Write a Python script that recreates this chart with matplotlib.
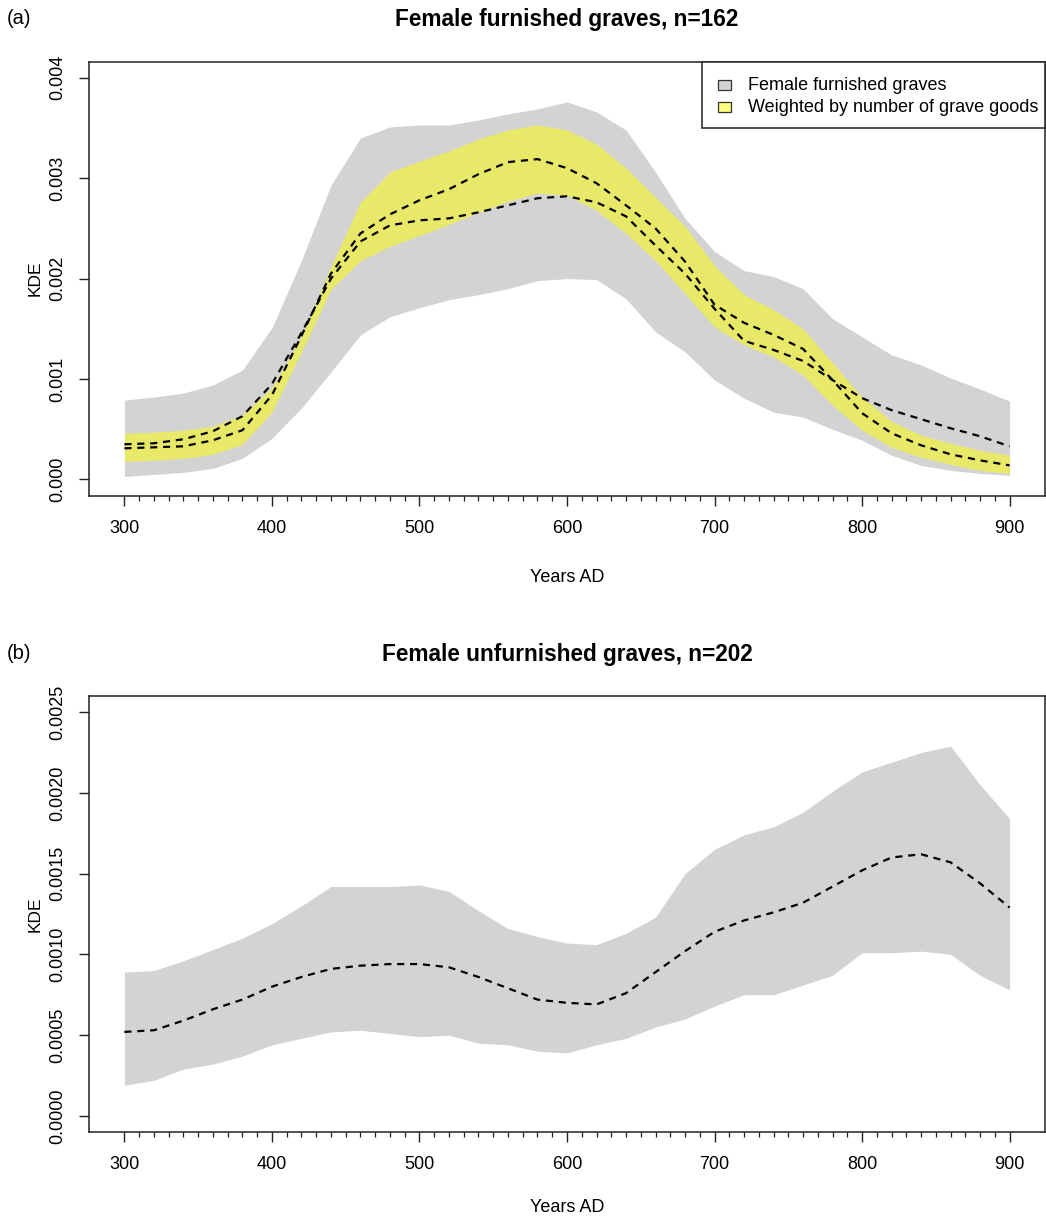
import matplotlib

matplotlib.use("Agg")
import matplotlib.pyplot as plt
import numpy as np
from matplotlib.patches import Rectangle
from matplotlib.ticker import FixedLocator

plt.rcParams["font.family"] = ["Liberation Sans", "DejaVu Sans"]

# KDE values, in units of 1e-3
SCALE = 1e-3
YEARS = [300, 320, 340, 360, 380, 400, 420, 440, 460, 480, 500, 520, 540, 560, 580, 600,
         620, 640, 660, 680, 700, 720, 740, 760, 780, 800, 820, 840, 860, 880, 900]

# (a) female furnished graves
FURN_LOW = [0.03, 0.05, 0.07, 0.11, 0.21, 0.41, 0.71, 1.07, 1.44, 1.62, 1.71, 1.79, 1.84, 1.90, 1.98, 2.00,
            1.99, 1.80, 1.47, 1.27, 0.99, 0.81, 0.67, 0.62, 0.50, 0.39, 0.24, 0.14, 0.09, 0.06, 0.04]
FURN_HIGH = [0.79, 0.82, 0.86, 0.94, 1.09, 1.51, 2.18, 2.93, 3.40, 3.51, 3.53, 3.53, 3.58, 3.64, 3.69, 3.76,
             3.66, 3.48, 3.06, 2.60, 2.27, 2.08, 2.02, 1.90, 1.60, 1.42, 1.24, 1.14, 1.01, 0.90, 0.78]
FURN_MEAN = [0.35, 0.36, 0.40, 0.48, 0.63, 0.95, 1.46, 2.00, 2.37, 2.53, 2.58, 2.60, 2.66, 2.73, 2.80, 2.82,
             2.76, 2.62, 2.33, 2.05, 1.70, 1.38, 1.29, 1.18, 0.99, 0.81, 0.69, 0.60, 0.51, 0.43, 0.33]
WEIGHTED_LOW = [0.18, 0.19, 0.21, 0.25, 0.35, 0.67, 1.27, 1.89, 2.18, 2.32, 2.43, 2.54, 2.66, 2.77, 2.85, 2.83,
                2.68, 2.45, 2.18, 1.85, 1.52, 1.34, 1.22, 1.04, 0.74, 0.49, 0.32, 0.22, 0.15, 0.09, 0.06]
WEIGHTED_HIGH = [0.46, 0.47, 0.49, 0.53, 0.64, 0.91, 1.42, 2.12, 2.76, 3.06, 3.17, 3.27, 3.39, 3.48, 3.53, 3.48,
                 3.34, 3.10, 2.81, 2.52, 2.13, 1.84, 1.69, 1.50, 1.16, 0.82, 0.58, 0.44, 0.36, 0.29, 0.24]
WEIGHTED_MEAN = [0.31, 0.32, 0.33, 0.39, 0.49, 0.84, 1.43, 2.05, 2.45, 2.64, 2.78, 2.89, 3.04, 3.16, 3.19, 3.10,
                 2.95, 2.73, 2.50, 2.17, 1.74, 1.56, 1.44, 1.30, 0.99, 0.66, 0.46, 0.34, 0.25, 0.19, 0.14]

# (b) female unfurnished graves
UNFURN_LOW = [0.19, 0.22, 0.29, 0.32, 0.37, 0.44, 0.48, 0.52, 0.53, 0.51, 0.49, 0.50, 0.45, 0.44, 0.40, 0.39,
              0.44, 0.48, 0.55, 0.60, 0.68, 0.75, 0.75, 0.81, 0.87, 1.01, 1.01, 1.02, 1.00, 0.87, 0.78]
UNFURN_HIGH = [0.89, 0.90, 0.96, 1.03, 1.10, 1.19, 1.30, 1.42, 1.42, 1.42, 1.43, 1.39, 1.27, 1.16, 1.11, 1.07,
               1.06, 1.13, 1.23, 1.50, 1.65, 1.74, 1.79, 1.88, 2.01, 2.13, 2.19, 2.25, 2.29, 2.05, 1.84]
UNFURN_MEAN = [0.52, 0.53, 0.59, 0.66, 0.72, 0.80, 0.86, 0.91, 0.93, 0.94, 0.94, 0.92, 0.86, 0.79, 0.72, 0.70,
               0.69, 0.76, 0.89, 1.02, 1.14, 1.21, 1.26, 1.32, 1.42, 1.52, 1.60, 1.62, 1.57, 1.44, 1.29]

X_TICKS = [300, 400, 500, 600, 700, 800, 900]
Y_TICKS_A = [0.000, 0.001, 0.002, 0.003, 0.004]
Y_TICKS_B = [0.0000, 0.0005, 0.0010, 0.0015, 0.0020, 0.0025]
LEGEND_LABELS = ["Female furnished graves", "Weighted by number of grave goods"]

GRAY = "#d3d3d3"
YELLOW = (1.0, 1.0, 0.0, 0.5)
DASH = (0, (3.2, 2.6))
FS = 13

W, H = 1046, 1217
AX_LEFT, AX_RIGHT = 89, 1045


def _scaled(values):
    return np.asarray(values, dtype=float) * SCALE


def _style_axes(ax, y_ticks, y_fmt, y_max):
    ax.set_xlim(276, 924)
    ax.set_ylim(-0.04 * y_max, 1.04 * y_max)
    ax.xaxis.set_major_locator(FixedLocator(X_TICKS))
    ax.xaxis.set_minor_locator(FixedLocator(np.arange(300, 901, 10)))
    ax.yaxis.set_major_locator(FixedLocator(y_ticks))
    ax.set_xticklabels([str(t) for t in X_TICKS])
    ax.set_yticklabels([y_fmt.format(t) for t in y_ticks])
    ax.tick_params(axis="both", which="major", direction="out", length=7.5, width=1.0,
                   labelsize=FS, color="#222222")
    ax.tick_params(axis="x", which="major", pad=10)
    ax.tick_params(axis="x", which="minor", direction="out", length=3.5, width=0.9, color="#222222")
    ax.tick_params(axis="y", which="major", pad=9)
    plt.setp(ax.get_yticklabels(), rotation=90, va="center")
    for spine in ax.spines.values():
        spine.set_linewidth(1.1)
        spine.set_color("#222222")


def _draw_legend(ax, top_px, bottom_px):
    # R-style legend box pinned to the top-right corner, laid out in pixels
    height = bottom_px - top_px
    width = AX_RIGHT - AX_LEFT

    def fx(px):
        return (px - AX_LEFT) / width

    def fy(py):
        return 1 - (py - top_px) / height

    frame = Rectangle((fx(702), fy(128)), fx(AX_RIGHT) - fx(702), fy(top_px) - fy(128),
                      transform=ax.transAxes, facecolor="white", edgecolor="#222222",
                      linewidth=1.1, zorder=5, clip_on=False)
    ax.add_patch(frame)
    for row_y, face, label in zip([85, 107], [GRAY, YELLOW], LEGEND_LABELS):
        swatch = Rectangle((fx(718), fy(row_y + 4.5)), fx(731) - fx(718), fy(row_y - 4.5) - fy(row_y + 4.5),
                           transform=ax.transAxes, facecolor=face, edgecolor="#333333",
                           linewidth=0.9, zorder=6, clip_on=False)
        ax.add_patch(swatch)
        ax.text(fx(748), fy(row_y), label, transform=ax.transAxes, fontsize=FS,
                ha="left", va="center", zorder=6)


def _panel_text(fig, ax, tag, title, xlabel_gap):
    pos = ax.get_position()
    cx = (pos.x0 + pos.x1) / 2
    top_px = (1 - pos.y1) * H
    fig.text(7 / W, 1 - (top_px - 43) / H, tag, fontsize=FS + 1.5, ha="left", va="center")
    fig.text(cx, 1 - (top_px - 42) / H, title, fontsize=16.3, fontweight="bold", ha="center", va="center")
    bottom_px = (1 - pos.y0) * H
    fig.text(cx, 1 - (bottom_px + xlabel_gap) / H, "Years AD", fontsize=FS, ha="center", va="center")
    fig.text(35 / W, (pos.y0 + pos.y1) / 2, "KDE", fontsize=FS - 0.5, rotation=90, ha="center", va="center")


def main() -> None:
    fig = plt.figure(figsize=(W / 100, H / 100), dpi=100)
    left, width = AX_LEFT / W, (AX_RIGHT - AX_LEFT) / W
    top_a, bottom_a = 61.7, 495.5
    top_b, bottom_b = 696.0, 1132.0
    ax_a = fig.add_axes([left, 1 - bottom_a / H, width, (bottom_a - top_a) / H])
    ax_b = fig.add_axes([left, 1 - bottom_b / H, width, (bottom_b - top_b) / H])

    years = np.asarray(YEARS, dtype=float)

    # (a) furnished graves: unweighted band and line, then the weighted band over them
    ax_a.fill_between(years, _scaled(FURN_LOW), _scaled(FURN_HIGH), color=GRAY, linewidth=0)
    ax_a.plot(years, _scaled(FURN_MEAN), color="black", linestyle=DASH, linewidth=1.6)
    ax_a.fill_between(years, _scaled(WEIGHTED_LOW), _scaled(WEIGHTED_HIGH), color=YELLOW, linewidth=0)
    ax_a.plot(years, _scaled(WEIGHTED_MEAN), color="black", linestyle=DASH, linewidth=1.6)
    _style_axes(ax_a, Y_TICKS_A, "{:.3f}", 0.004)
    _draw_legend(ax_a, top_a, bottom_a)

    # (b) unfurnished graves
    ax_b.fill_between(years, _scaled(UNFURN_LOW), _scaled(UNFURN_HIGH), color=GRAY, linewidth=0)
    ax_b.plot(years, _scaled(UNFURN_MEAN), color="black", linestyle=DASH, linewidth=1.6)
    _style_axes(ax_b, Y_TICKS_B, "{:.4f}", 0.0025)

    _panel_text(fig, ax_a, "(a)", "Female furnished graves, n=162", 82)
    _panel_text(fig, ax_b, "(b)", "Female unfurnished graves, n=202", 75)

    fig.savefig("out.png", dpi=100, facecolor="white")
    plt.close(fig)


if __name__ == "__main__":
    main()
